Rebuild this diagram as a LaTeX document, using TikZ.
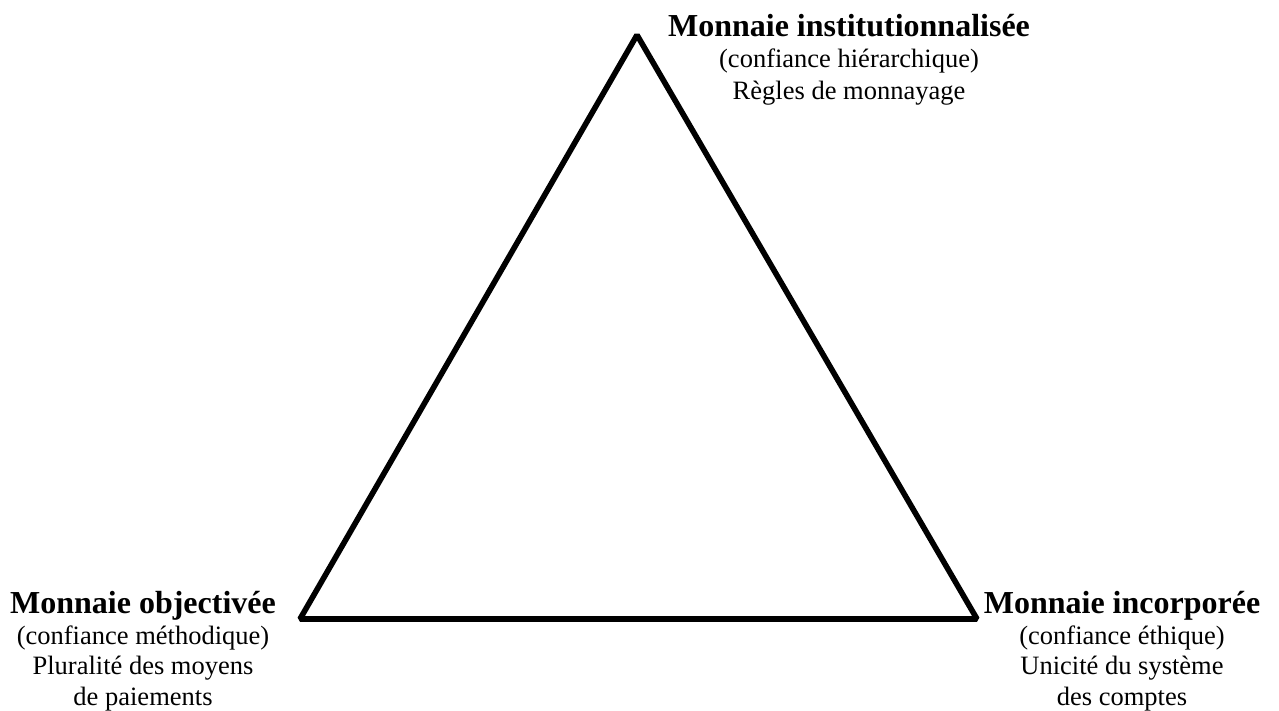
\documentclass[tikz,border=0pt]{standalone}
\usepackage{fontspec}
\setmainfont{Liberation Serif}
\tikzset{
  ttl/.style={anchor=base, inner sep=0pt, font=\fontsize{32}{36}\selectfont\bfseries},
  sub/.style={anchor=base, inner sep=0pt, font=\fontsize{26.5}{31}\selectfont},
  edge/.style={line width=5.6pt, line join=bevel}
}
\begin{document}
\begin{tikzpicture}[x=1pt,y=-1pt]
\useasboundingbox (0,0) rectangle (1279,710);
\coordinate (T) at (637,35);
\coordinate (L) at (300,619);
\coordinate (R) at (977,619);
\draw[edge] (T) -- (L) -- (R) -- cycle;
% top
\node[ttl] (t1) at (849,36) {Monnaie institutionnalisée};
\node[sub] (t2) at (849,67) {(confiance hiérarchique)};
\node[sub] (t3) at (849,99) {Règles de monnayage};
% left
\node[ttl] (l1) at (143,613) {Monnaie objectivée};
\node[sub] (l2) at (143,644) {(confiance méthodique)};
\node[sub] (l3) at (143,674) {Pluralité des moyens};
\node[sub] (l4) at (143,705) {de paiements};
% right
\node[ttl] (r1) at (1122,613) {Monnaie incorporée};
\node[sub] (r2) at (1122,644) {(confiance éthique)};
\node[sub] (r3) at (1122,674) {Unicité du système};
\node[sub] (r4) at (1122,705) {des comptes};
\end{tikzpicture}
\end{document}
